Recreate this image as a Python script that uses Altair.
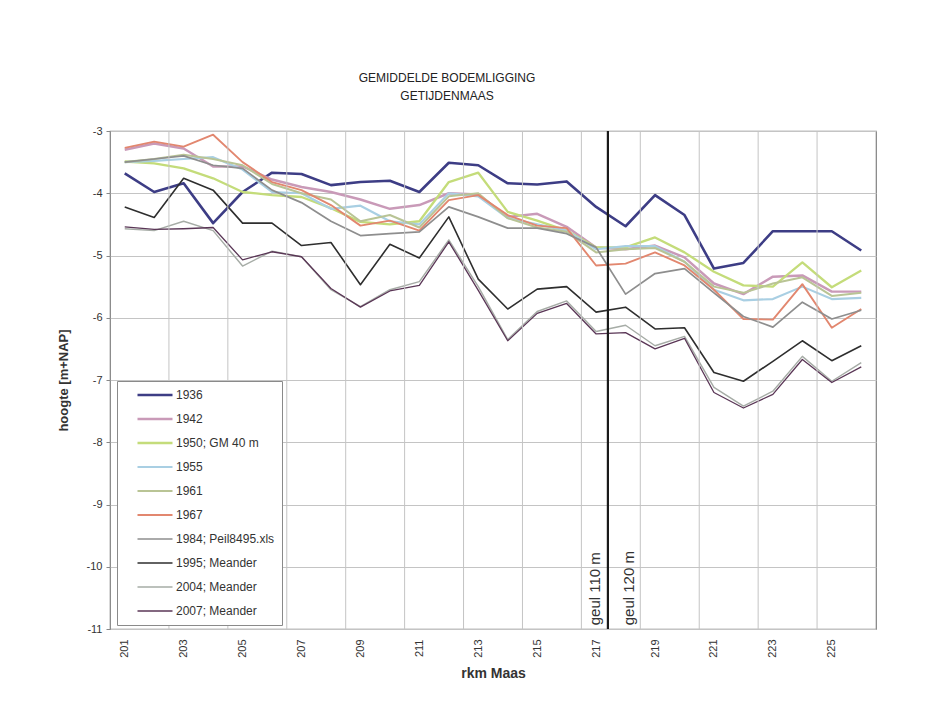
import altair as alt
import pandas as pd

# ---------------- data ----------------
rkm = list(range(201, 227))

series_names = [
    "1936",
    "1942",
    "1950; GM 40 m",
    "1955",
    "1961",
    "1967",
    "1984; Peil8495.xls",
    "1995; Meander",
    "2004; Meander",
    "2007; Meander",
]

v1936 = [-3.68, -3.98, -3.84, -4.48, -3.98, -3.67, -3.69, -3.87, -3.82, -3.80, -3.98, -3.51, -3.55,
         -3.84, -3.86, -3.81, -4.22, -4.53, -4.03, -4.35, -5.21, -5.12, -4.61, -4.61, -4.61, -4.92]
v1942 = [-3.30, -3.20, -3.28, -3.57, -3.57, -3.78, -3.90, -3.98, -4.10, -4.25, -4.19, -4.00, -4.02,
         -4.38, -4.33, -4.54, -4.87, -4.90, -4.84, -5.03, -5.45, -5.62, -5.34, -5.32, -5.58, -5.58]
v1950 = [-3.49, -3.52, -3.60, -3.76, -3.98, -4.03, -4.06, -4.24, -4.46, -4.50, -4.45, -3.82, -3.67,
         -4.30, -4.44, -4.60, -4.87, -4.87, -4.71, -4.95, -5.26, -5.48, -5.50, -5.11, -5.51, -5.24]
v1955 = [-3.50, -3.48, -3.45, -3.42, -3.62, -3.98, -4.00, -4.25, -4.20, -4.45, -4.50, -4.00, -4.05,
         -4.40, -4.50, -4.60, -4.90, -4.85, -4.85, -5.10, -5.55, -5.72, -5.70, -5.50, -5.70, -5.68]
v1961 = [-3.50, -3.45, -3.38, -3.45, -3.55, -3.85, -4.00, -4.10, -4.45, -4.35, -4.55, -4.05, -4.00,
         -4.40, -4.55, -4.62, -4.95, -4.90, -4.88, -5.10, -5.50, -5.60, -5.45, -5.35, -5.65, -5.60]
v1967 = [-3.27, -3.17, -3.25, -3.06, -3.50, -3.82, -3.95, -4.19, -4.52, -4.44, -4.60, -4.11, -4.03,
         -4.35, -4.52, -4.56, -5.16, -5.13, -4.95, -5.16, -5.55, -6.02, -6.03, -5.46, -6.16, -5.86]
v1984 = [-3.50, -3.45, -3.40, -3.55, -3.60, -3.95, -4.15, -4.45, -4.68, -4.65, -4.62, -4.22, -4.38,
         -4.56, -4.56, -4.65, -4.87, -5.62, -5.29, -5.21, -5.60, -5.98, -6.15, -5.75, -6.02, -5.88]
v1995 = [-4.22, -4.39, -3.76, -3.95, -4.48, -4.48, -4.84, -4.79, -5.47, -4.82, -5.04, -4.38, -5.38,
         -5.86, -5.54, -5.50, -5.91, -5.83, -6.18, -6.16, -6.88, -7.02, -6.70, -6.37, -6.69, -6.45]
v2004 = [-4.57, -4.60, -4.45, -4.60, -5.17, -4.93, -5.02, -5.55, -5.82, -5.55, -5.42, -4.75, -5.50,
         -6.35, -5.90, -5.73, -6.22, -6.12, -6.45, -6.30, -7.12, -7.42, -7.18, -6.62, -7.02, -6.72]
v2007 = [-4.54, -4.58, -4.57, -4.55, -5.07, -4.94, -5.02, -5.53, -5.83, -5.57, -5.48, -4.78, -5.56,
         -6.37, -5.93, -5.77, -6.26, -6.24, -6.50, -6.33, -7.20, -7.45, -7.23, -6.67, -7.04, -6.79]

series_values = [v1936, v1942, v1950, v1955, v1961, v1967, v1984, v1995, v2004, v2007]

series_colors = ["#3d3d85", "#c99ab8", "#c4dc7a", "#a9cfe3", "#b9c495",
                 "#e2876f", "#8e8e8e", "#2e2e2e", "#a6aca6", "#5a3656"]
series_widths = [2.6, 1.3, 1.3, 1.3, 1.3, 1.4, 1.2, 1.5, 1.4, 2.6]

x_label_values = [201, 203, 205, 207, 209, 211, 213, 215, 217, 219, 221, 223, 225]
x_grid_values = [202.5, 204.5, 206.5, 208.5, 210.5, 212.5, 214.5, 216.5, 218.5, 220.5, 222.5, 224.5]
y_tick_values = [-11, -10, -9, -8, -7, -6, -5, -4, -3]

geul_line_x = [217.4]
geul_labels = ["geul 110 m", "geul 120 m"]
geul_label_x = [216.95, 218.1]
geul_label_y = [-10.94, -10.94]

title_lines = ["GEMIDDELDE BODEMLIGGING", "GETIJDENMAAS"]

# ---------------- tables ----------------
rows = []
for i, (name, vals) in enumerate(zip(series_names, series_values)):
    for k, v in zip(rkm, vals):
        rows.append({"jaar": name, "rkm": k, "hoogte": v, "volg": i})
df = pd.DataFrame(rows)

grid_df = pd.DataFrame({"rkm": x_grid_values})
line_df = pd.DataFrame({"rkm": geul_line_x})
text_df = pd.DataFrame({"rkm": geul_label_x, "hoogte": geul_label_y, "label": geul_labels})

FONT = "Liberation Sans"
x_scale = alt.Scale(domain=[200.5, 226.5], nice=False, zero=False)
y_scale = alt.Scale(domain=[-11, -3], nice=False, zero=False)

x_axis = alt.Axis(
    values=x_label_values,
    labelAngle=-90,
    grid=False,
    ticks=False,
    domain=False,
    labelPadding=10,
    labelFontSize=11,
    labelFont=FONT,
    labelColor="#333333",
    titleFont=FONT,
    titleFontSize=14,
    titleFontWeight="bold",
    titleColor="#333333",
    titlePadding=9,
)
y_axis = alt.Axis(
    values=y_tick_values,
    labelExpr="toString(datum.value)",
    grid=True,
    gridColor="#c4c4c4",
    domain=False,
    ticks=True,
    tickSize=4,
    tickColor="#888888",
    labelPadding=4,
    labelFontSize=11,
    labelFont=FONT,
    labelColor="#333333",
    titleFont=FONT,
    titleFontSize=13,
    titleFontWeight="bold",
    titleColor="#333333",
    titlePadding=16,
)

lines = alt.Chart(df).mark_line(strokeJoin="round").encode(
    x=alt.X("rkm:Q", scale=x_scale, axis=x_axis, title="rkm Maas"),
    y=alt.Y("hoogte:Q", scale=y_scale, axis=y_axis, title="hoogte [m+NAP]"),
    color=alt.Color(
        "jaar:N",
        scale=alt.Scale(domain=series_names, range=series_colors),
        title=None,
    ),
    strokeWidth=alt.StrokeWidth(
        "jaar:N",
        scale=alt.Scale(domain=series_names, range=series_widths),
        title=None,
    ),
    order=alt.Order("volg:Q"),
    detail="jaar:N",
)

grid = alt.Chart(grid_df).mark_rule(color="#c4c4c4", strokeWidth=1).encode(
    x=alt.X("rkm:Q", scale=x_scale, title="rkm Maas")
)

vline = alt.Chart(line_df).mark_rule(color="#1a1a1a", strokeWidth=2.2).encode(
    x=alt.X("rkm:Q", scale=x_scale, title="rkm Maas")
)

texts = alt.Chart(text_df).mark_text(
    angle=270, align="left", baseline="middle", font=FONT, fontSize=15, color="#333333"
).encode(
    x=alt.X("rkm:Q", scale=x_scale, title="rkm Maas"),
    y=alt.Y("hoogte:Q", scale=y_scale, title="hoogte [m+NAP]"),
    text="label:N",
)

chart = (
    alt.layer(lines, grid, vline, texts)
    .properties(
        width=766,
        height=498,
        padding={"left": 102, "top": 123, "right": 40, "bottom": 60},
        autosize=alt.AutoSizeParams(type="none"),
        title=alt.Title(
            title_lines,
            font="Liberation Sans",
            fontSize=12,
            fontWeight="normal",
            color="#222222",
            anchor="middle",
            dx=-46,
            offset=22,
            lineHeight=18,
        ),
    )
    .configure_view(stroke="#808080", strokeWidth=1.2)
    .configure_legend(
        orient="none",
        legendX=7,
        legendY=250,
        symbolType="stroke",
        symbolSize=1225,
        clipHeight=14,
        rowPadding=10,
        padding=7,
        symbolOffset=12,
        labelFont=FONT,
        labelFontSize=12,
        labelColor="#333333",
        labelLimit=300,
        labelOffset=2,
        strokeColor="#8a8a8a",
        fillColor="white",
    )
)

chart.save("out.html", embed_options={"renderer": "svg", "actions": False})
